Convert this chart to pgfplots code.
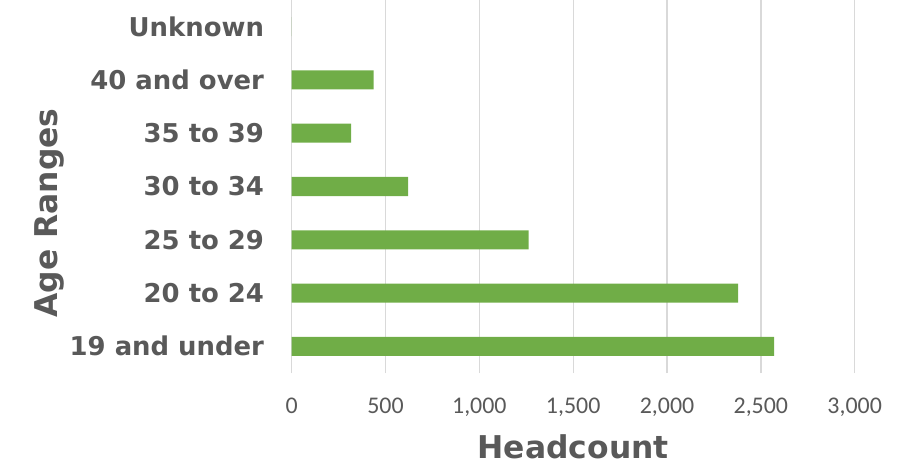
\documentclass[border=0pt]{standalone}
\usepackage{pgfplots}
\pgfplotsset{compat=1.18}
\usepackage{fontspec}
\setmainfont{DejaVu Sans}
\newfontfamily\tickfont{Carlito}
\definecolor{bargreen}{HTML}{70AD47}
\definecolor{txtgray}{HTML}{595959}
\definecolor{gridgray}{HTML}{D9D9D9}
\begin{document}
\begin{tikzpicture}
\useasboundingbox (-291.7bp,-91bp) rectangle (619.3bp,373bp);
\begin{axis}[
 anchor=south west, at={(0,0)},
 scale only axis, width=563bp, height=373bp,
 xbar, bar width=19bp,
 xmin=0, xmax=3000, ymin=-0.5, ymax=6.5,
 xtick={0,500,...,3000},
 ytick={0,...,6},
 yticklabels={19 and under, 20 to 24, 25 to 29, 30 to 34, 35 to 39, 40 and over, Unknown},
 axis line style={draw=none},
 major tick length=0pt,
 xmajorgrids, grid style={gridgray, line width=1.3bp},
 /pgf/number format/.cd, 1000 sep={,}, assume math mode=true,
 /pgfplots/.cd,
 xticklabel style={font=\tickfont\fontsize{24}{28}\selectfont, text=txtgray, inner sep=0pt, anchor=north, yshift=-24.5bp},
 yticklabel style={font=\bfseries\fontsize{26}{30}\selectfont, text=txtgray, inner sep=0pt, anchor=base east, xshift=-27.5bp, yshift=-9.5bp},
 clip=false,
]
\addplot[fill=bargreen, draw=none] coordinates {(2570,0) (2379,1) (1263,2) (621,3) (317,4) (436,5) (0,6)};
\node[anchor=base, font=\bfseries\fontsize{31.5}{36}\selectfont, text=txtgray, yshift=-85.3bp] at (rel axis cs:0.5,0) {Headcount};
\end{axis}
\node[rotate=90, anchor=base, font=\bfseries\fontsize{31.5}{36}\selectfont, text=txtgray] at (-234.4bp,160bp) {Age Ranges};
\end{tikzpicture}
\end{document}
